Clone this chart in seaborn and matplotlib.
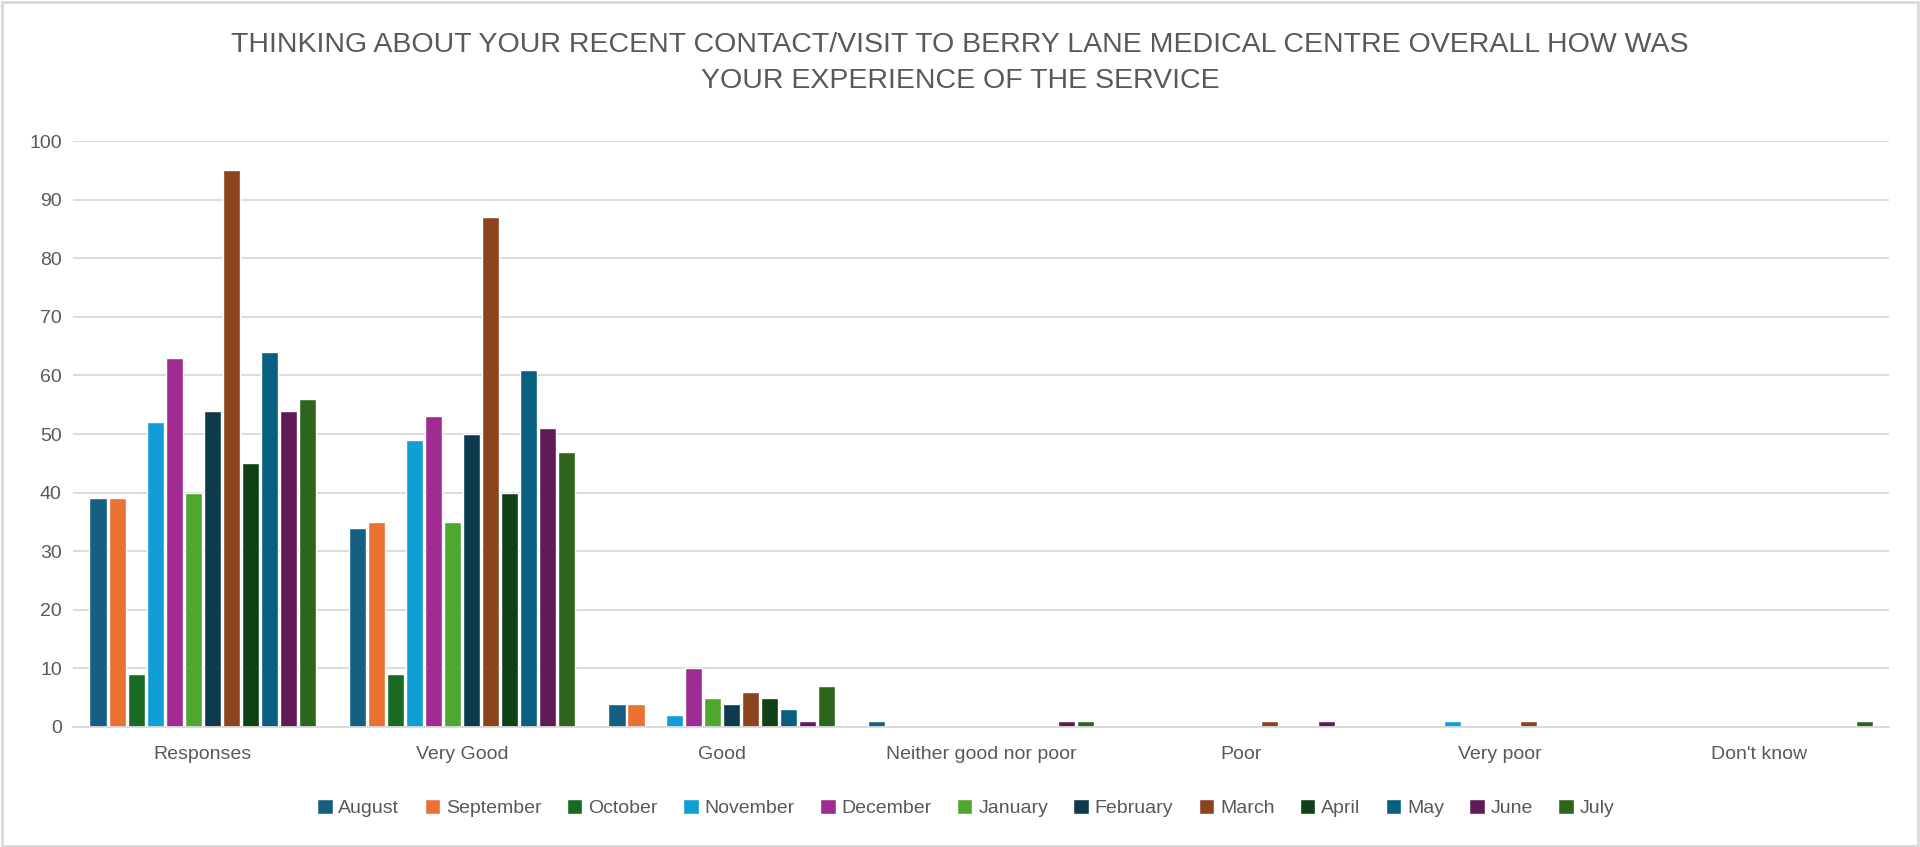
import numpy as np
import pandas as pd
import matplotlib
matplotlib.use("Agg")
import matplotlib.pyplot as plt
import seaborn as sns
from matplotlib.patches import Rectangle

categories = ["Responses", "Very Good", "Good", "Neither good nor poor", "Poor", "Very poor", "Don't know"]
months = ["August", "September", "October", "November", "December", "January",
          "February", "March", "April", "May", "June", "July"]

august    = [39, 34, 4, 1, 0, 0, 0]
september = [39, 35, 4, 0, 0, 0, 0]
october   = [9, 9, 0, 0, 0, 0, 0]
november  = [52, 49, 2, 0, 0, 1, 0]
december  = [63, 53, 10, 0, 0, 0, 0]
january   = [40, 35, 5, 0, 0, 0, 0]
february  = [54, 50, 4, 0, 0, 0, 0]
march     = [95, 87, 6, 0, 1, 1, 0]
april     = [45, 40, 5, 0, 0, 0, 0]
may       = [64, 61, 3, 0, 0, 0, 0]
june      = [54, 51, 1, 1, 1, 0, 0]
july      = [56, 47, 7, 1, 0, 0, 1]

series = [august, september, october, november, december, january,
          february, march, april, may, june, july]

colors = ["#156082", "#E97132", "#196B24", "#0F9ED5", "#A02B93", "#4EA72E",
          "#0D3A4E", "#8C441E", "#0F4016", "#095F80", "#601A58", "#2F641C"]

rows = []
for m, vals in zip(months, series):
    for c, v in zip(categories, vals):
        rows.append({"category": c, "month": m, "value": v})
df = pd.DataFrame(rows)

sns.set_theme(style="white")
plt.rcParams["font.family"] = ["Liberation Sans Narrow", "Liberation Sans", "DejaVu Sans"]

fig = plt.figure(figsize=(19.2, 8.47), dpi=100)
ax = fig.add_axes([0.038, 0.1417, 0.946, 0.6918])

sns.barplot(data=df, x="category", y="value", hue="month", order=categories,
            hue_order=months, palette=colors, width=0.88, gap=0.1,
            saturation=1, ax=ax, legend=True, errorbar=None)

ax.set_ylim(0, 100)
ax.set_xlim(-0.5, len(categories) - 0.5)
ax.set_yticks(np.arange(0, 101, 10))
ax.yaxis.grid(True, color="#D9D9D9", linewidth=1.3)
ax.set_axisbelow(True)
for s in ["top", "right", "left"]:
    ax.spines[s].set_visible(False)
ax.spines["bottom"].set_color("#D9D9D9")
ax.spines["bottom"].set_linewidth(1.3)
ax.tick_params(axis="both", length=0, labelsize=14, colors="#595959", pad=8)
ax.tick_params(axis="x", pad=14)
ax.set_xlabel("")
ax.set_ylabel("")

fig.suptitle("THINKING ABOUT YOUR RECENT CONTACT/VISIT TO BERRY LANE MEDICAL CENTRE OVERALL HOW WAS\nYOUR EXPERIENCE OF THE SERVICE",
             y=0.962, fontsize=20.5, color="#595959", linespacing=1.5)

handles, labels = ax.get_legend_handles_labels()
ax.legend_.remove()
fig.legend(handles, labels, loc="center", bbox_to_anchor=(0.503, 0.046), ncol=12,
           frameon=False, fontsize=14, labelcolor="#595959", handlelength=0.8,
           handleheight=0.8, handletextpad=0.3, columnspacing=1.3)

fig.patches.append(Rectangle((0.001, 0.001), 0.998, 0.997, transform=fig.transFigure,
                             fill=False, edgecolor="#D9D9D9", linewidth=2))

fig.savefig("out.png", dpi=100, facecolor="white")
